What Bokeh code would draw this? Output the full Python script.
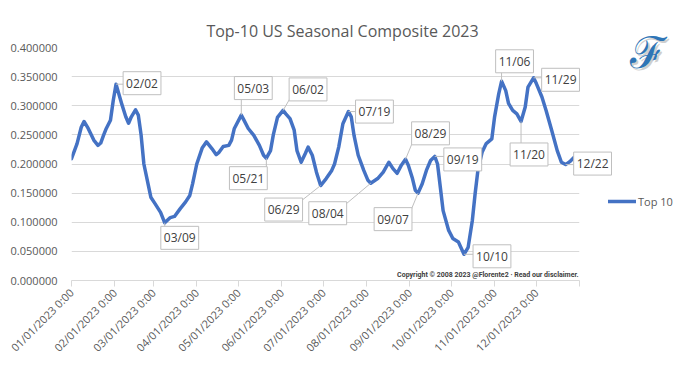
import pandas as pd
from bokeh.plotting import figure
from bokeh.models import (ColumnDataSource, Label, Legend, LegendItem,
                          FixedTicker, PrintfTickFormatter, Range1d)
from bokeh.embed import file_html
from bokeh.resources import INLINE

# ---------------- data ----------------
dates = ["01/01", "01/05", "01/08", "01/10", "01/13", "01/17", "01/20", "01/22", "01/24", "01/26",
         "01/29", "01/31", "02/02", "02/06", "02/09", "02/11", "02/13", "02/16", "02/18", "02/20",
         "02/22", "02/25", "02/27", "03/02", "03/06", "03/09", "03/13", "03/16", "03/20", "03/24",
         "03/27", "03/29", "04/01", "04/05", "04/08", "04/12", "04/15", "04/17", "04/20", "04/24",
         "04/26", "04/28", "05/03", "05/05", "05/08", "05/12", "05/16", "05/19", "05/21", "05/24",
         "05/26", "05/29", "06/02", "06/04", "06/07", "06/10", "06/12", "06/15", "06/18", "06/20",
         "06/23", "06/26", "06/29", "07/03", "07/07", "07/09", "07/12", "07/15", "07/19", "07/21",
         "07/23", "07/26", "07/30", "08/02", "08/04", "08/09", "08/13", "08/17", "08/20", "08/23",
         "08/26", "08/29", "08/31", "09/03", "09/05", "09/07", "09/10", "09/13", "09/16", "09/19",
         "09/21", "09/23", "09/25", "09/29", "10/02", "10/06", "10/10", "10/13", "10/16", "10/18",
         "10/20", "10/23", "10/26", "10/30", "11/01", "11/04", "11/06", "11/09", "11/11", "11/14",
         "11/17", "11/20", "11/23", "11/25", "11/29", "12/01", "12/05", "12/08", "12/12", "12/16",
         "12/19", "12/22", "12/25", "12/28"]
values = [0.209, 0.235, 0.263, 0.273, 0.261, 0.241, 0.232, 0.236, 0.249, 0.261,
          0.275, 0.309, 0.337, 0.304, 0.281, 0.270, 0.281, 0.293, 0.284, 0.250,
          0.200, 0.166, 0.143, 0.132, 0.117, 0.099, 0.108, 0.110, 0.123, 0.135,
          0.146, 0.166, 0.200, 0.228, 0.238, 0.226, 0.216, 0.220, 0.230, 0.232,
          0.241, 0.261, 0.284, 0.275, 0.261, 0.249, 0.232, 0.215, 0.210, 0.223,
          0.250, 0.280, 0.292, 0.286, 0.278, 0.258, 0.223, 0.203, 0.218, 0.229,
          0.215, 0.186, 0.163, 0.175, 0.189, 0.200, 0.229, 0.269, 0.290, 0.281,
          0.249, 0.215, 0.189, 0.172, 0.167, 0.175, 0.186, 0.203, 0.192, 0.184,
          0.198, 0.208, 0.198, 0.175, 0.155, 0.150, 0.166, 0.189, 0.206, 0.213,
          0.200, 0.160, 0.120, 0.086, 0.072, 0.066, 0.045, 0.057, 0.103, 0.149,
          0.189, 0.220, 0.235, 0.243, 0.281, 0.321, 0.342, 0.326, 0.304, 0.292,
          0.286, 0.273, 0.298, 0.332, 0.348, 0.338, 0.315, 0.292, 0.258, 0.223,
          0.203, 0.199, 0.204, 0.211]
series_name = "Top 10"

callout_dates = ["02/02", "03/09", "05/03", "05/21", "06/02", "06/29", "07/19", "08/04",
                 "08/29", "09/07", "09/19", "10/10", "11/06", "11/20", "11/29", "12/22"]

month_ticks = ["01/01", "02/01", "03/01", "04/01", "05/01", "06/01",
               "07/01", "08/01", "09/01", "10/01", "11/01", "12/01"]
tick_labels = ["01/01/2023 0:00", "02/01/2023 0:00", "03/01/2023 0:00", "04/01/2023 0:00",
               "05/01/2023 0:00", "06/01/2023 0:00", "07/01/2023 0:00", "08/01/2023 0:00",
               "09/01/2023 0:00", "10/01/2023 0:00", "11/01/2023 0:00", "12/01/2023 0:00"]
y_ticks = [0.0, 0.05, 0.10, 0.15, 0.20, 0.25, 0.30, 0.35, 0.40]

title_text = "Top-10 US Seasonal Composite 2023"
copyright_text = "Copyright \u00a9 2008 2023 @Florente2 \u00b7 Read our disclaimer."
logo_text = "\u2131"

# ---------------- styles / layout ----------------
# callout box offsets (px, right / down) relative to the marked point
callout_offsets = [(26, -1), (15, 15), (12, -27), (-18, 20), (25, -21), (-37, 24), (26, 0), (-43, 30),
                   (25, -26), (-25, 26), (28, 3), (28, 2), (13, -20), (8, 33), (27, 2), (27, -1)]

FONT = "Open Sans"
BLUE = "#4472C4"
GREY_TXT = "#595959"
FL, FT = 71, 47            # frame left / top in canvas px
FRAME_W, FRAME_H = 508, 233
W, H = 678, 358
X_MAX, Y_MAX = 365, 0.40
px_x = FRAME_W / X_MAX
px_y = FRAME_H / Y_MAX


def to_data(ix, iy):
    """canvas pixel -> data coordinates (for decorations placed around the frame)"""
    return (ix - FL) / px_x, (FT + FRAME_H - iy) / px_y


jan1 = pd.Timestamp("2023-01-01")


def doy(md):
    return (pd.Timestamp("2023/" + md) - jan1).days


xs = [doy(d) for d in dates]
src = ColumnDataSource(dict(x=xs, y=values))

p = figure(frame_width=FRAME_W, frame_height=FRAME_H,
           min_border_left=FL, min_border_right=W - FL - FRAME_W,
           min_border_top=FT, min_border_bottom=H - FT - FRAME_H,
           x_range=Range1d(0, X_MAX), y_range=Range1d(0, Y_MAX),
           output_backend="svg", toolbar_location=None, tools="")
p.outline_line_color = None
p.background_fill_color = "white"
p.border_fill_color = "white"

# axes
p.xgrid.grid_line_color = None
p.ygrid.grid_line_color = "#d9d9d9"
p.ygrid.ticker = FixedTicker(ticks=y_ticks)

p.yaxis.ticker = FixedTicker(ticks=y_ticks)
p.yaxis.formatter = PrintfTickFormatter(format="%.6f")
p.yaxis.axis_line_color = None
p.yaxis.major_tick_line_color = None
p.yaxis.minor_tick_line_color = None
p.yaxis.major_label_standoff = 8
p.yaxis.major_label_text_font = FONT
p.yaxis.major_label_text_font_size = "11px"
p.yaxis.major_label_text_color = GREY_TXT

tick_pos = [doy(m) for m in month_ticks] + [X_MAX]
p.xaxis.ticker = FixedTicker(ticks=tick_pos)
overrides = {doy(m): lab for m, lab in zip(month_ticks, tick_labels)}
overrides[X_MAX] = ""
p.xaxis.major_label_overrides = overrides
p.xaxis.major_label_orientation = 0.785398
p.xaxis.axis_line_color = "#d9d9d9"
p.xaxis.major_tick_line_color = "#d9d9d9"
p.xaxis.major_tick_in = 0
p.xaxis.major_tick_out = 6
p.xaxis.minor_tick_line_color = None
p.xaxis.major_label_standoff = 4
p.xaxis.major_label_text_font = FONT
p.xaxis.major_label_text_font_size = "11px"
p.xaxis.major_label_text_color = GREY_TXT

# main line
r = p.line("x", "y", source=src, line_color=BLUE, line_width=3.5, line_join="round", line_cap="round")

# legend (outside, right panel)
legend = Legend(items=[LegendItem(label=series_name, renderers=[r])],
                location=(29, 71), glyph_width=28, glyph_height=16, label_standoff=2,
                padding=0, margin=0, border_line_color=None, background_fill_alpha=0,
                label_text_font=FONT, label_text_font_size="11px", label_text_color=GREY_TXT)
p.add_layout(legend, "right")

# callouts
hw, hh = 18, 9
lead = dict(x0=[], y0=[], x1=[], y1=[])
for cd, (dx, dy) in zip(callout_dates, callout_offsets):
    cx = doy(cd)
    cy = values[dates.index(cd)]
    ex = max(dx - hw, min(0, dx + hw))
    ey = max(dy - hh, min(0, dy + hh))
    lead["x0"].append(cx)
    lead["y0"].append(cy)
    lead["x1"].append(cx + ex / px_x)
    lead["y1"].append(cy - ey / px_y)
    lbl = Label(x=cx, y=cy, x_offset=dx, y_offset=-dy, text=cd,
                text_align="center", text_baseline="middle",
                text_font=FONT, text_font_size="12px", text_color="#404040",
                background_fill_color="white", border_line_color="#bfbfbf",
                border_line_width=1, padding=3)
    overflow = cx * px_x + dx + hw + 4 > FRAME_W
    p.add_layout(lbl, "right" if overflow else "center")
p.segment("x0", "y0", "x1", "y1", source=ColumnDataSource(lead), line_color="#bfbfbf", line_width=1)

# title
tx, ty = to_data(342, 30)
p.add_layout(Label(x=tx, y=ty, text=title_text,
                   text_align="center", text_baseline="middle",
                   text_font=FONT, text_font_size="16px", text_color=GREY_TXT), "above")

# copyright
cx_, cy_ = to_data(578, 274)
p.add_layout(Label(x=cx_, y=cy_, text=copyright_text,
                   text_align="right", text_baseline="middle",
                   text_font="Roboto", text_font_size="7px", text_font_style="bold", text_color="#404040"))

# logo
lx, ly = to_data(647, 52)
p.add_layout(Label(x=lx, y=ly, x_offset=2, y_offset=-2, text=logo_text,
                   text_align="center", text_baseline="middle",
                   text_font="DejaVu Serif", text_font_size="44px",
                   text_color="#cfcfcf"), "right")
p.add_layout(Label(x=lx, y=ly, text=logo_text,
                   text_align="center", text_baseline="middle",
                   text_font="DejaVu Serif", text_font_size="44px",
                   text_color="#2E75B6"), "right")

open("out.html", "w").write(file_html(p, INLINE))
